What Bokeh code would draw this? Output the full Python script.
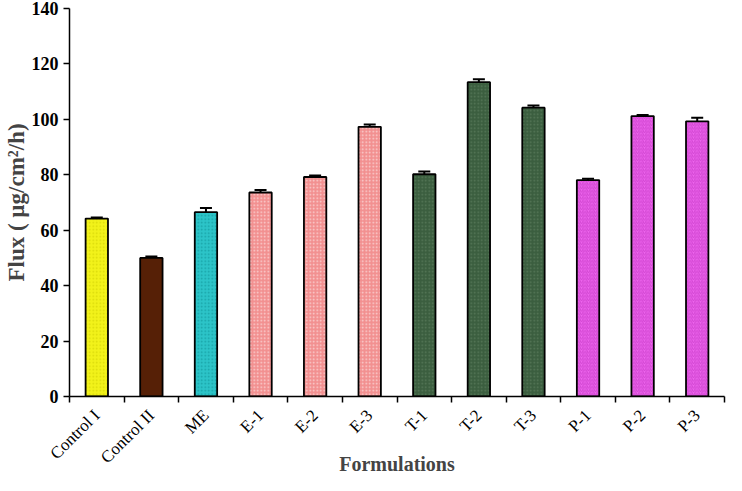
import numpy as np
from bokeh.plotting import figure
from bokeh.models import ColumnDataSource, Whisker, FixedTicker, TeeHead, Range1d
from bokeh.embed import file_html
from bokeh.resources import INLINE

# ---- data ----
categories = ["Control I", "Control II", "ME", "E-1", "E-2", "E-3",
              "T-1", "T-2", "T-3", "P-1", "P-2", "P-3"]
flux = [64.2, 50.0, 66.5, 73.6, 79.2, 97.3, 80.2, 113.4, 104.2, 78.1, 101.2, 99.3]
err = [0.4, 0.5, 1.5, 0.9, 0.5, 0.8, 1.0, 1.1, 0.8, 0.5, 0.4, 1.3]
y_ticks = [0, 20, 40, 60, 80, 100, 120, 140]

# ---- styles ----
fills = ["#f2f21a", "#562006", "#2cc4c8", "#f29090", "#f29090", "#f29090",
         "#3b5e3f", "#3b5e3f", "#3b5e3f", "#ee66ee", "#ee66ee", "#ee66ee"]
hatches = ["dot", " ", "dot", "dot", "dot", "dot",
           "dot", "dot", "dot", "right_diagonal_line", "right_diagonal_line", "right_diagonal_line"]
hatch_cols = ["#c8c800", "#562006", "#0a8a90", "#ffffff", "#ffffff", "#ffffff",
              "#6a8a6a", "#6a8a6a", "#6a8a6a", "#c030c0", "#c030c0", "#c030c0"]

n = len(categories)
xc = np.arange(n) + 0.5
src = ColumnDataSource(dict(
    x=xc, top=flux, upper=np.array(flux) + np.array(err),
    lower=np.array(flux) - np.array(err),
    fill=fills, hatch=hatches, hcol=hatch_cols))

p = figure(width=726, height=477, output_backend="svg", toolbar_location=None,
           x_range=Range1d(0, n), y_range=Range1d(0, 140),
           min_border_left=40, min_border_right=2, min_border_top=8,
           min_border_bottom=0)
p.outline_line_color = None
p.xgrid.visible = False
p.ygrid.visible = False

p.vbar(x="x", top="top", bottom=0, width=0.41, source=src,
       fill_color="fill", line_color="black", line_width=1.8,
       hatch_pattern="hatch", hatch_color="hcol", hatch_scale=3.5,
       hatch_weight=1, hatch_alpha=0.6)

w = Whisker(base="x", upper="upper", lower="lower", source=src,
            line_color="black", line_width=2,
            upper_head=TeeHead(size=12, line_width=2, line_color="black"),
            lower_head=TeeHead(size=12, line_width=2, line_color="black"))
p.add_layout(w)

# y axis
p.yaxis.ticker = FixedTicker(ticks=y_ticks)
p.yaxis.axis_label = "Flux ( \u00b5g/cm\u00b2/h)"
p.yaxis.axis_label_text_font = "Liberation Serif"
p.yaxis.axis_label_text_font_style = "bold"
p.yaxis.axis_label_text_font_size = "23px"
p.yaxis.major_label_text_font = "Liberation Serif"
p.yaxis.major_label_text_font_style = "bold"
p.yaxis.major_label_text_font_size = "18px"
p.yaxis.major_label_text_color = "black"
p.yaxis.axis_line_width = 1.5
p.yaxis.axis_line_color = "black"
p.yaxis.major_tick_line_width = 1.5
p.yaxis.major_tick_in = 0
p.yaxis.major_tick_out = 6
p.yaxis.major_label_standoff = 5
p.yaxis.minor_tick_line_color = None
p.yaxis.axis_label_standoff = 0

# x axis
p.xaxis.ticker = FixedTicker(ticks=list(xc), minor_ticks=list(np.arange(n + 1)))
p.xaxis.major_label_overrides = {float(v): c for v, c in zip(xc, categories)}
p.xaxis.major_label_orientation = np.pi / 4
p.xaxis.major_label_text_font = "Liberation Serif"
p.xaxis.major_label_text_font_size = "17px"
p.xaxis.major_label_text_color = "black"
p.xaxis.major_tick_in = 0
p.xaxis.major_tick_out = 0
p.xaxis.major_label_standoff = 10
p.xaxis.minor_tick_in = 0
p.xaxis.minor_tick_out = 6
p.xaxis.minor_tick_line_width = 1.5
p.xaxis.minor_tick_line_color = "black"
p.xaxis.axis_line_width = 1.5
p.xaxis.axis_line_color = "black"
p.xaxis.axis_label = "Formulations"
p.xaxis.axis_label_text_font = "Liberation Serif"
p.xaxis.axis_label_text_font_style = "bold"
p.xaxis.axis_label_text_font_size = "20px"
p.xaxis.axis_label_standoff = -24

open("out.html", "w").write(file_html(p, INLINE))
